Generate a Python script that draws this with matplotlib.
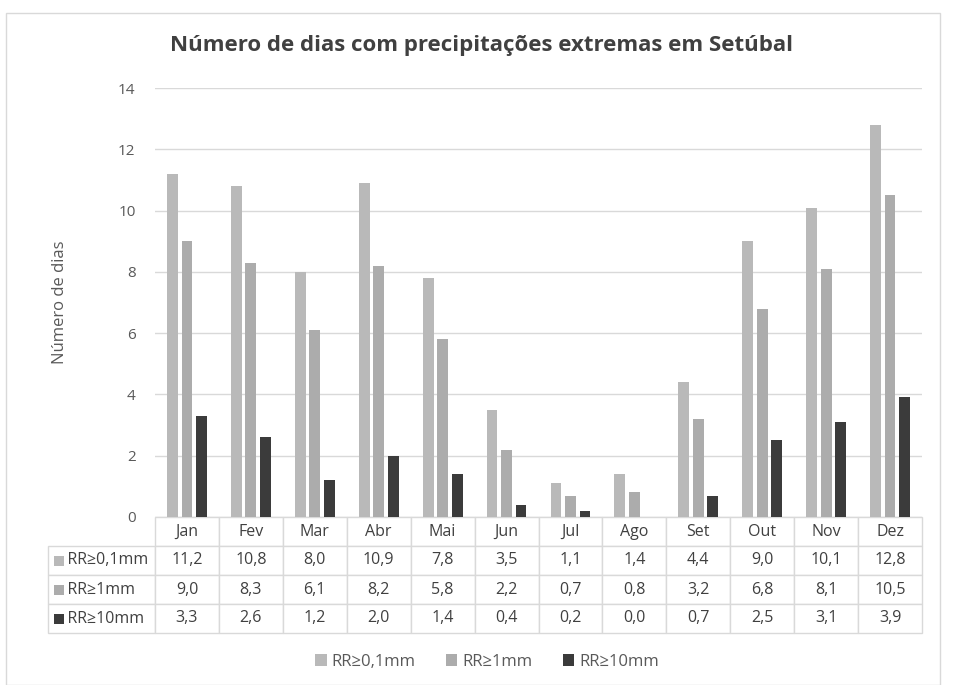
import matplotlib
matplotlib.use("Agg")
import matplotlib.pyplot as plt
import numpy as np
from matplotlib.patches import Rectangle
from matplotlib.table import Table

months = ["Jan", "Fev", "Mar", "Abr", "Mai", "Jun", "Jul", "Ago", "Set", "Out", "Nov", "Dez"]
series_names = ["RR≥0,1mm", "RR≥1mm", "RR≥10mm"]
rr01 = [11.2, 10.8, 8.0, 10.9, 7.8, 3.5, 1.1, 1.4, 4.4, 9.0, 10.1, 12.8]
rr1 = [9.0, 8.3, 6.1, 8.2, 5.8, 2.2, 0.7, 0.8, 3.2, 6.8, 8.1, 10.5]
rr10 = [3.3, 2.6, 1.2, 2.0, 1.4, 0.4, 0.2, 0.0, 0.7, 2.5, 3.1, 3.9]
colors = ["#b9b9b9", "#acacac", "#3b3b3b"]

plt.rcParams['font.family'] = ['Open Sans', 'DejaVu Sans']

W, H = 957, 685
fig = plt.figure(figsize=(W / 100, H / 100), dpi=100)
fig.patch.set_facecolor("white")

# outer border
fig.add_artist(Rectangle((6 / W, 0.0), (940 - 6) / W, 1 - 13 / H, transform=fig.transFigure,
                         fill=False, edgecolor="#d9d9d9", linewidth=1))

ax_l, ax_r, ax_t, ax_b = 155, 922, 88, 517
aw, ah = ax_r - ax_l, ax_b - ax_t
ax = fig.add_axes([ax_l / W, 1 - ax_b / H, aw / W, ah / H])

x = np.arange(len(months))
bw = 0.17
offs = [-0.227, 0.0, 0.227]
for vals, c, o, n in zip([rr01, rr1, rr10], colors, offs, series_names):
    ax.bar(x + o, vals, width=bw, color=c, label=n, zorder=3)

ax.set_xlim(-0.5, len(months) - 0.5)
ax.set_ylim(0, 14)
ax.set_yticks(range(0, 15, 2))
ax.yaxis.grid(True, color="#d9d9d9", linewidth=1, zorder=0)
ax.set_axisbelow(True)
for s in ax.spines.values():
    s.set_visible(False)
ax.tick_params(axis="y", length=0, pad=14, labelsize=11, labelcolor="#595959")
ax.set_xticks([])
ax.set_ylabel("Número de dias", fontsize=12, color="#595959", labelpad=36)

# data table (built cell by cell)
cell_text = [[f"{v:.1f}".replace(".", ",") for v in s] for s in [rr01, rr1, rr10]]
lab_w = (ax_l - 48) / aw
tab_h = (633 - ax_b) / ah
row_h = tab_h / 4
tbl = Table(ax, bbox=[-lab_w, -tab_h, 1 + lab_w, tab_h])
for j, m in enumerate(months):
    tbl.add_cell(0, j + 1, width=1 / 12, height=row_h, text=m, loc="center")
for i, n in enumerate(series_names):
    tbl.add_cell(i + 1, 0, width=lab_w, height=row_h, text="    " + n, loc="left")
    for j, t in enumerate(cell_text[i]):
        tbl.add_cell(i + 1, j + 1, width=1 / 12, height=row_h, text=t, loc="center")
tbl.auto_set_font_size(False)
tbl.set_fontsize(11.5)
for (r, c), cell in tbl.get_celld().items():
    cell.set_edgecolor("#d9d9d9")
    cell.set_linewidth(1)
    cell.get_text().set_color("#404040")
    if c == 0:
        cell.PAD = 0.025
ax.add_table(tbl)

# legend keys inside row labels
ksz_y = 10 / ah
ksz_x = 10 / aw
for i, c in enumerate(colors):
    yc = -row_h * (i + 1.5)
    ax.add_patch(Rectangle((-lab_w + 6 / aw, yc - ksz_y / 2), ksz_x, ksz_y,
                           transform=ax.transAxes, facecolor=c, edgecolor="none", clip_on=False))

fig.text(481 / W, 1 - 46 / H, "Número de dias com precipitações extremas em Setúbal",
         ha="center", va="center", fontsize=16, fontweight="bold", color="#404040")

fig.legend(loc="center", bbox_to_anchor=(487 / W, 1 - 662 / H), ncol=3, frameon=False,
           fontsize=12, handlelength=0.7, handleheight=0.7, handletextpad=0.3,
           columnspacing=1.8, labelcolor="#595959")

fig.savefig("out.png", dpi=100)
